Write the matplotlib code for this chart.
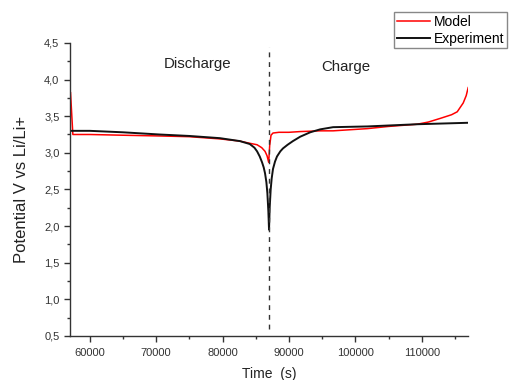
import matplotlib
matplotlib.use('Agg')
import matplotlib.pyplot as plt
from matplotlib.ticker import MultipleLocator

plt.rcParams['font.family'] = ['Liberation Sans', 'DejaVu Sans']

# model curve (red)
model_t = [57100, 57450, 60000, 65000, 70500, 75000, 79600, 82600, 84100, 85200,
           85900, 86400, 86700, 86950, 87100, 87300, 87600, 88500, 90000, 91700,
           94700, 96650, 101800, 105000, 109300, 111000, 112800, 114500, 115350,
           116250, 116700, 117000]
model_v = [3.82, 3.25, 3.25, 3.24, 3.23, 3.22, 3.19, 3.16, 3.13, 3.11,
           3.07, 3.02, 2.96, 2.87, 3.10, 3.24, 3.27, 3.28, 3.28, 3.29,
           3.30, 3.30, 3.33, 3.36, 3.39, 3.42, 3.47, 3.52, 3.56,
           3.68, 3.78, 3.89]

# experiment curve (black)
exp_t = [57300, 60000, 65000, 70500, 75000, 79600, 82600, 84100, 84800, 85200,
         85600, 85950, 86200, 86400, 86600, 86750, 86900, 87000, 87100, 87250,
         87400, 87600, 87900, 88200, 88700, 89100, 89800, 90600, 91700, 93200,
         94700, 96650, 101800, 109300, 117000]
exp_v = [3.30, 3.30, 3.28, 3.25, 3.23, 3.20, 3.16, 3.12, 3.07, 3.02,
         2.95, 2.87, 2.80, 2.72, 2.60, 2.45, 2.20, 1.95, 2.25, 2.50,
         2.65, 2.78, 2.88, 2.95, 3.02, 3.06, 3.11, 3.16, 3.22, 3.28,
         3.32, 3.35, 3.36, 3.39, 3.41]

switch_t = 87000

fig = plt.figure(figsize=(5.1, 3.8), dpi=100)
ax = fig.add_axes([0.137, 0.116, 0.781, 0.771])

ax.plot(model_t, model_v, color='#ff0000', lw=1.1, label='Model')
ax.plot(exp_t, exp_v, color='#111111', lw=1.4, label='Experiment')
ax.vlines(switch_t, 0.6, 4.45, colors='#333333', lw=1.0, linestyles=(0, (3.5, 3.5)))

ax.set_xlim(57000, 117000)
ax.set_ylim(0.5, 4.5)
ax.xaxis.set_major_locator(MultipleLocator(10000))
ax.xaxis.set_minor_locator(MultipleLocator(5000))
ax.yaxis.set_major_locator(MultipleLocator(0.5))
ax.yaxis.set_minor_locator(MultipleLocator(0.25))
ax.yaxis.set_major_formatter(plt.FuncFormatter(lambda v, p: ('%.1f' % v).replace('.', ',')))

for s in ['top', 'right']:
    ax.spines[s].set_visible(False)
for s in ['left', 'bottom']:
    ax.spines[s].set_color('#333333')
    ax.spines[s].set_linewidth(1.0)
ax.tick_params(which='major', length=4, width=1, color='#333333', labelsize=8, labelcolor='#333333')
ax.tick_params(axis='x', which='major', pad=5)
ax.tick_params(which='minor', length=2.5, width=1, color='#333333')

ax.text(76200, 4.21, 'Discharge', fontsize=10.8, color='#222222', ha='center', va='center')
ax.text(98500, 4.17, 'Charge', fontsize=10.8, color='#222222', ha='center', va='center')

ax.set_xlabel('Time  (s)', fontsize=10, color='#222222', labelpad=6)
ax.set_ylabel('Potential V vs Li/Li+', fontsize=12, color='#222222', labelpad=11)

fig.legend(loc='upper left', bbox_to_anchor=(394 / 510, 1 - 12 / 380), fontsize=10,
           frameon=True, fancybox=False, edgecolor='#888888', framealpha=1,
           handlelength=2.4, handletextpad=0.25, borderpad=0.2, labelspacing=0.2,
           borderaxespad=0)

fig.savefig('out.png', dpi=100)
